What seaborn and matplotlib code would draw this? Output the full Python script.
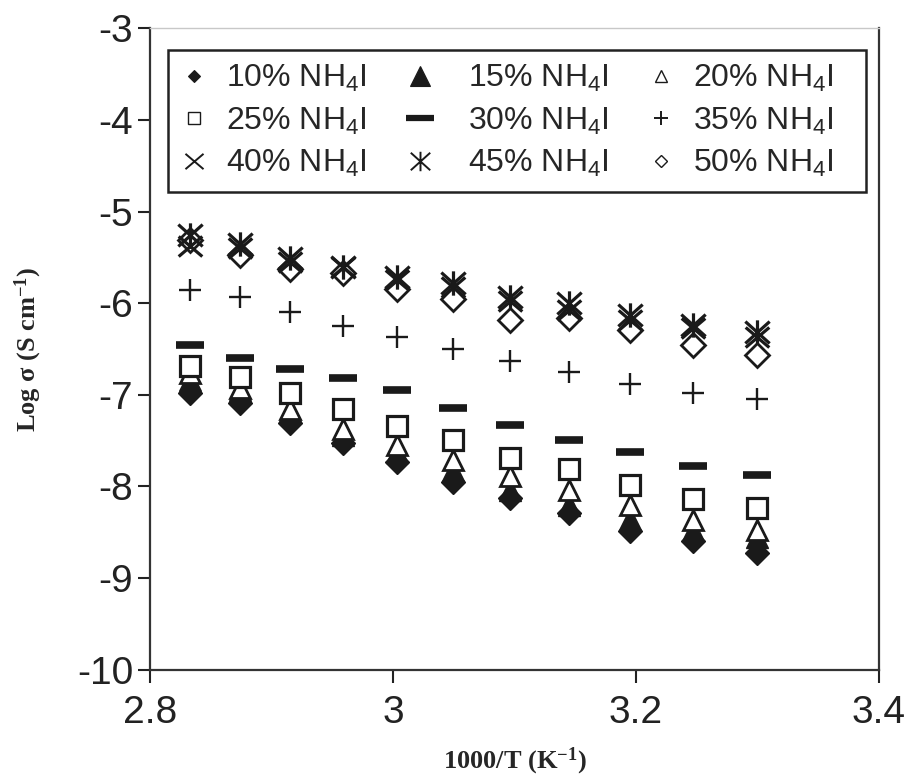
import matplotlib
matplotlib.use("Agg")
import matplotlib.pyplot as plt
import seaborn as sns
import numpy as np
import pandas as pd
from matplotlib.path import Path
from matplotlib.lines import Line2D

# ---- data ----
inv_T = [2.833, 2.874, 2.915, 2.959, 3.003, 3.049, 3.096, 3.145, 3.195, 3.247, 3.300]
labels = ["10%", "15%", "20%", "25%", "30%", "35%", "40%", "45%", "50%"]
s10 = [-6.98, -7.09, -7.31, -7.53, -7.73, -7.95, -8.13, -8.29, -8.49, -8.59, -8.73]
s15 = [-6.84, -6.95, -7.18, -7.44, -7.62, -7.82, -8.04, -8.20, -8.35, -8.48, -8.55]
s20 = [-6.76, -6.92, -7.15, -7.37, -7.55, -7.71, -7.89, -8.04, -8.20, -8.37, -8.47]
s25 = [-6.69, -6.81, -6.98, -7.15, -7.34, -7.49, -7.69, -7.81, -7.98, -8.14, -8.24]
s30 = [-6.46, -6.60, -6.72, -6.82, -6.95, -7.14, -7.33, -7.49, -7.62, -7.78, -7.88]
s35 = [-5.86, -5.93, -6.09, -6.25, -6.37, -6.50, -6.63, -6.75, -6.88, -6.98, -7.04]
s40 = [-5.38, -5.40, -5.55, -5.60, -5.75, -5.82, -5.98, -6.07, -6.18, -6.27, -6.37]
s45 = [-5.26, -5.35, -5.51, -5.60, -5.71, -5.78, -5.93, -6.00, -6.13, -6.24, -6.31]
s50 = [-5.31, -5.47, -5.63, -5.67, -5.84, -5.95, -6.18, -6.16, -6.29, -6.46, -6.57]
series = [s10, s15, s20, s25, s30, s35, s40, s45, s50]
xticks = [2.8, 3.0, 3.2, 3.4]
xticklabels = ["2.8", "3", "3.2", "3.4"]
yticks = [-10, -9, -8, -7, -6, -5, -4, -3]

# ---- custom marker paths ----
M, L = Path.MOVETO, Path.LINETO
x_path = Path([(-1, -0.85), (1, 0.85), (-1, 0.85), (1, -0.85)], [M, L, M, L])
zh_path = Path([(-1, -0.9), (1, 0.9), (-1, 0.9), (1, -0.9), (0, -1), (0, 1)],
               [M, L, M, L, M, L])

K = "#1a1a1a"
styles = [
    dict(marker="D", markersize=12.5, mfc=K, mec=K, mew=1.0, zorder=3),
    dict(marker="^", markersize=15.5, mfc=K, mec=K, mew=1.0, zorder=3),
    dict(marker="^", markersize=15, mfc="white", mec=K, mew=2.0, zorder=3),
    dict(marker="s", markersize=14, mfc="white", mec=K, mew=2.3, zorder=3),
    dict(marker="_", markersize=19.5, mfc=K, mec=K, mew=5.5, zorder=3),
    dict(marker="+", markersize=16.5, mfc=K, mec=K, mew=1.7, zorder=3),
    dict(marker=x_path, markersize=17, mfc="none", mec=K, mew=2.3, zorder=4),
    dict(marker=zh_path, markersize=17.5, mfc="none", mec=K, mew=2.3, zorder=4),
    dict(marker="D", markersize=12, mfc="white", mec=K, mew=2.0, zorder=2),
]
leg_styles = [
    dict(marker="D", markersize=6, mfc=K, mec=K, mew=0.8),
    dict(marker="^", markersize=14, mfc=K, mec=K, mew=0.8),
    dict(marker="^", markersize=9, mfc="white", mec=K, mew=1.0),
    dict(marker="s", markersize=8, mfc="white", mec=K, mew=1.0),
    dict(marker="_", markersize=20, mfc=K, mec=K, mew=4.5),
    dict(marker="+", markersize=9.5, mfc=K, mec=K, mew=1.4),
    dict(marker=x_path, markersize=13, mfc="none", mec=K, mew=1.4),
    dict(marker=zh_path, markersize=14, mfc="none", mec=K, mew=1.4),
    dict(marker="D", markersize=6.5, mfc="white", mec=K, mew=1.0),
]

sns.set_theme(style="white")
plt.rcParams["font.family"] = ["Liberation Sans", "DejaVu Sans"]
plt.rcParams["mathtext.default"] = "regular"

fig = plt.figure(figsize=(9.12, 7.76), dpi=100)
ax = fig.add_axes([0.1645, 0.137, 0.7993, 0.8263])

for lab, vals, st in zip(labels, series, styles):
    df = pd.DataFrame({"x": inv_T, "y": vals})
    sns.lineplot(data=df, x="x", y="y", ax=ax, linestyle="none",
                 errorbar=None, legend=False, color=K, **st)

ax.set_xlim(2.8, 3.4)
ax.set_ylim(-10, -3)
ax.set_xticks(xticks)
ax.set_xticklabels(xticklabels)
ax.set_yticks(yticks)
ax.set_yticklabels([str(v) for v in yticks])
ax.tick_params(axis="both", direction="out", length=9, width=1.5,
               labelsize=28, colors="#222222",
               bottom=True, left=True, top=False, right=False)
ax.tick_params(axis="x", pad=9)
ax.tick_params(axis="y", pad=3)

for side in ["left", "bottom", "right"]:
    ax.spines[side].set_color("#333333")
    ax.spines[side].set_linewidth(1.6)
ax.spines["top"].set_color("#c8c8c8")
ax.spines["top"].set_linewidth(1.0)

ax.set_xlabel("1000/T (K$^{-1}$)", fontsize=19, fontweight="bold",
              family="Liberation Serif")
ax.set_ylabel("Log σ (S cm$^{-1}$)", fontsize=19, fontweight="bold",
              family="Liberation Serif")
ax.xaxis.set_label_coords(0.5, -0.118)
ax.yaxis.set_label_coords(-0.146, 0.5)

handles = [Line2D([], [], linestyle="none", color=K, **st) for st in leg_styles]
# column 2 in the reference has a wider marker-to-text gap (en space);
# column 3 labels carry trailing space so the frame reaches the reference width
prefix = ["", "\u2002", "", "", "\u2002", "", "", "\u2002", ""]
suffix = ["", "", "\u2002\u2002", "", "", "\u2002\u2002", "", "", "\u2002\u2002"]
texts = [f"{p}{l} NH$_4$I{s}" for p, l, s in zip(prefix, labels, suffix)]
# legend fills row-wise in the reference; matplotlib fills column-wise
order = [0, 3, 6, 1, 4, 7, 2, 5, 8]
leg = ax.legend([handles[i] for i in order], [texts[i] for i in order],
                ncol=3, loc="upper left",
                bbox_to_anchor=(0.0247, 0.966),
                fontsize=23, frameon=True, fancybox=False, framealpha=1,
                edgecolor="#222222", borderpad=0.4, labelspacing=0.36,
                handlelength=0.85, handletextpad=0.58, columnspacing=1.22,
                borderaxespad=0)
leg.get_frame().set_linewidth(1.8)

fig.savefig("out.png", dpi=100)
